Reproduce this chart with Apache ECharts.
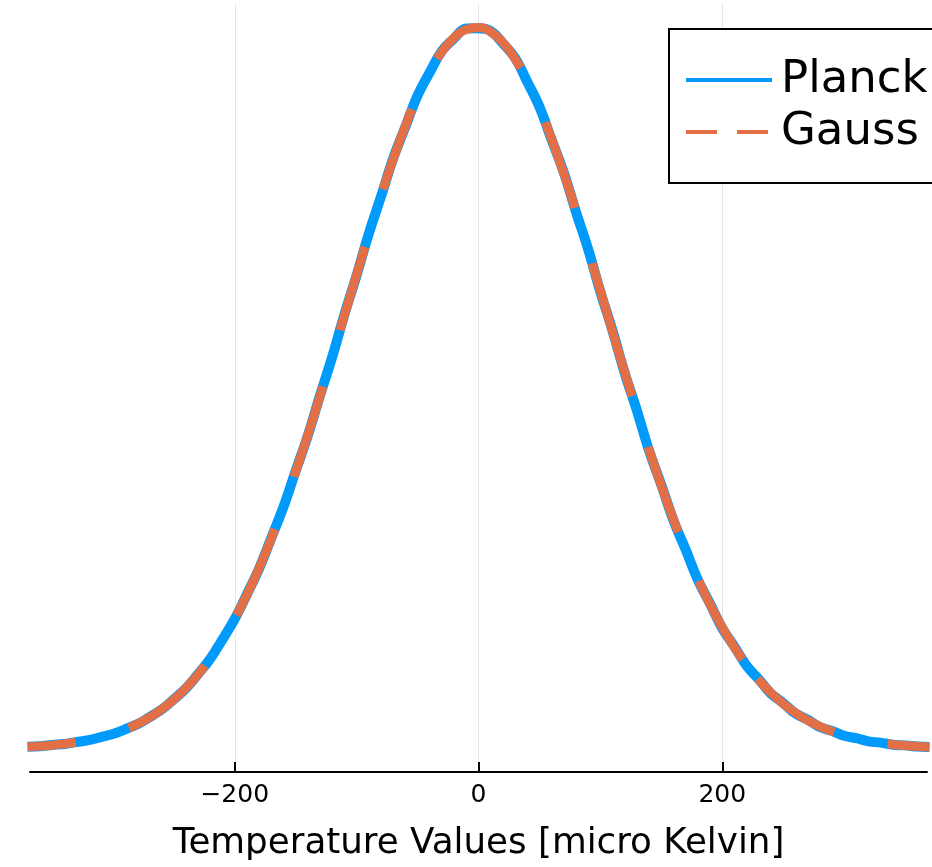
<!DOCTYPE html>
<html>
<head>
<meta charset="utf-8">
<script src="https://cdn.jsdelivr.net/npm/echarts@6/dist/echarts.min.js"></script>
<style>
  html, body { margin: 0; padding: 0; background: #ffffff; }
  #chart { width: 932px; height: 867px; }
</style>
</head>
<body>
<div id="chart"></div>
<script>
// Temperature grid (micro Kelvin), shared by both curves
const temperatures = [
  -370, -360, -350, -340, -330, -320, -310, -300, -290, -280,
  -270, -260, -250, -240, -230, -220, -210, -200, -190, -180,
  -170, -160, -150, -140, -130, -120, -110, -100, -90, -80,
  -70, -60, -50, -40, -30, -20, -10, 0, 10, 20,
  30, 40, 50, 60, 70, 80, 90, 100, 110, 120,
  130, 140, 150, 160, 170, 180, 190, 200, 210, 220,
  230, 240, 250, 260, 270, 280, 290, 300, 310, 320,
  330, 340, 350, 360, 370
];

// Density of the Planck temperature values (x 1e-3 per micro Kelvin)
const planckDensity = [
  0.0105, 0.0131, 0.0195, 0.0249, 0.0347, 0.0443, 0.0601, 0.0765, 0.1008, 0.1268,
  0.1631, 0.2027, 0.2556, 0.3128, 0.3871, 0.4662, 0.5661, 0.6712, 0.7989, 0.9321,
  1.0902, 1.2508, 1.4362, 1.6199, 1.8271, 2.0265, 2.2449, 2.4478, 2.6631, 2.8547,
  3.0519, 3.2152, 3.3768, 3.4966, 3.6081, 3.6722, 3.7235, 3.7241, 3.7102, 3.6468,
  3.5712, 3.4481, 3.3189, 3.1480, 2.9789, 2.7752, 2.5821, 2.3621, 2.1612, 1.9415,
  1.7478, 1.5405, 1.3641, 1.1806, 1.0291, 0.8731, 0.7497, 0.6231, 0.5282, 0.4291,
  0.3592, 0.2851, 0.2366, 0.1826, 0.1505, 0.1128, 0.0926, 0.0671, 0.0552, 0.0384,
  0.0318, 0.0211, 0.0176, 0.0114, 0.0093
];

// Gaussian density on the same grid (x 1e-3 per micro Kelvin)
const gaussDensity = [
  0.0101, 0.0138, 0.0188, 0.0254, 0.0340, 0.0450, 0.0592, 0.0772, 0.0997, 0.1276,
  0.1620, 0.2038, 0.2541, 0.3142, 0.3852, 0.4680, 0.5638, 0.6731, 0.7965, 0.9349,
  1.0870, 1.2537, 1.4327, 1.6232, 1.8235, 2.0301, 2.2408, 2.4514, 2.6588, 2.8590,
  3.0473, 3.2196, 3.3721, 3.5012, 3.6034, 3.6764, 3.7186, 3.7284, 3.7056, 3.6511,
  3.5660, 3.4527, 3.3136, 3.1529, 2.9735, 2.7800, 2.5767, 2.3675, 2.1561, 1.9466,
  1.7426, 1.5457, 1.3596, 1.1855, 1.0244, 0.8778, 0.7454, 0.6276, 0.5239, 0.4333,
  0.3553, 0.2890, 0.2329, 0.1861, 0.1474, 0.1157, 0.0900, 0.0694, 0.0531, 0.0403,
  0.0303, 0.0226, 0.0167, 0.0122, 0.0088
];

const seriesNames = ['Planck', 'Gauss'];
const tickValues = [-200, 0, 200];
const xAxisTitle = 'Temperature Values [micro Kelvin]';

const FONT = 'DejaVu Sans';
const BLUE = '#009AFA';
const ORANGE = '#E36F47';

// Dash / gap run lengths (px) of the dashed Gauss stroke, left to right
const GAUSS_DASHES = [
  48.5, 55.1, 99.6, 59.3, 94.5, 55.8, 94.8, 58.9, 87, 60.1,
  85.3, 56.6, 114.9, 59.6, 91, 57.7, 139.1, 53.1, 90.1, 53,
  90.2, 24.7, 94, 55.1, 300, 10
];

const pairs = (xs, ys) => xs.map((x, i) => [x, ys[i]]);

const chart = echarts.init(document.getElementById('chart'), null, { renderer: 'canvas' });

chart.setOption({
  animation: false,
  backgroundColor: '#ffffff',
  grid: { left: 30, right: 5, top: 4, bottom: 93, containLabel: false },
  xAxis: {
    type: 'value',
    min: -368,
    max: 368,
    name: xAxisTitle,
    nameLocation: 'middle',
    nameGap: 54,
    nameTextStyle: { fontFamily: FONT, fontSize: 35.7, color: '#000000' },
    axisLine: { show: true, onZero: false, lineStyle: { color: '#000000', width: 2 } },
    axisTick: { show: true, inside: true, length: 10, customValues: tickValues,
                lineStyle: { color: '#000000', width: 2 } },
    axisLabel: {
      show: true,
      customValues: tickValues,
      margin: 11,
      fontFamily: FONT,
      fontSize: 25,
      color: '#000000',
      formatter: (v) => String(v).replace('-', '\u2212')
    },
    splitLine: { show: true, lineStyle: { color: '#e6e6e6', width: 1 } }
  },
  yAxis: {
    type: 'value',
    min: -0.12,
    max: 3.85,
    show: false,
    splitLine: { show: false }
  },
  legend: {
    orient: 'vertical',
    left: 669,
    top: 29,
    padding: [28, 15, 28, 15],
    itemGap: 6,
    itemWidth: 86,
    itemHeight: 14,
    backgroundColor: '#ffffff',
    borderColor: '#000000',
    borderWidth: 2,
    borderRadius: 0,
    textStyle: { fontFamily: FONT, fontSize: 45, color: '#000000', lineHeight: 46,
                 padding: [0, 0, 0, 4] },
    lineStyle: { width: 4 },
    itemStyle: { opacity: 0 },
    data: [
      { name: seriesNames[0], itemStyle: { opacity: 0 },
        lineStyle: { width: 4, type: 'solid', dashOffset: 0 } },
      { name: seriesNames[1], itemStyle: { opacity: 0 },
        lineStyle: { width: 4, type: [31, 20], dashOffset: 0 } }
    ]
  },
  series: [
    {
      name: seriesNames[0],
      type: 'line',
      data: pairs(temperatures, planckDensity),
      symbol: 'none',
      showSymbol: false,
      smooth: 0.4,
      clip: true,
      lineStyle: { color: BLUE, width: 10, cap: 'butt', join: 'round' },
      itemStyle: { color: BLUE },
      z: 2
    },
    {
      name: seriesNames[1],
      type: 'line',
      data: pairs(temperatures, gaussDensity),
      symbol: 'none',
      showSymbol: false,
      smooth: true,
      clip: true,
      lineStyle: { color: ORANGE, width: 9, type: GAUSS_DASHES, dashOffset: 0, cap: 'butt' },
      itemStyle: { color: ORANGE },
      z: 3
    }
  ]
});
</script>
</body>
</html>
